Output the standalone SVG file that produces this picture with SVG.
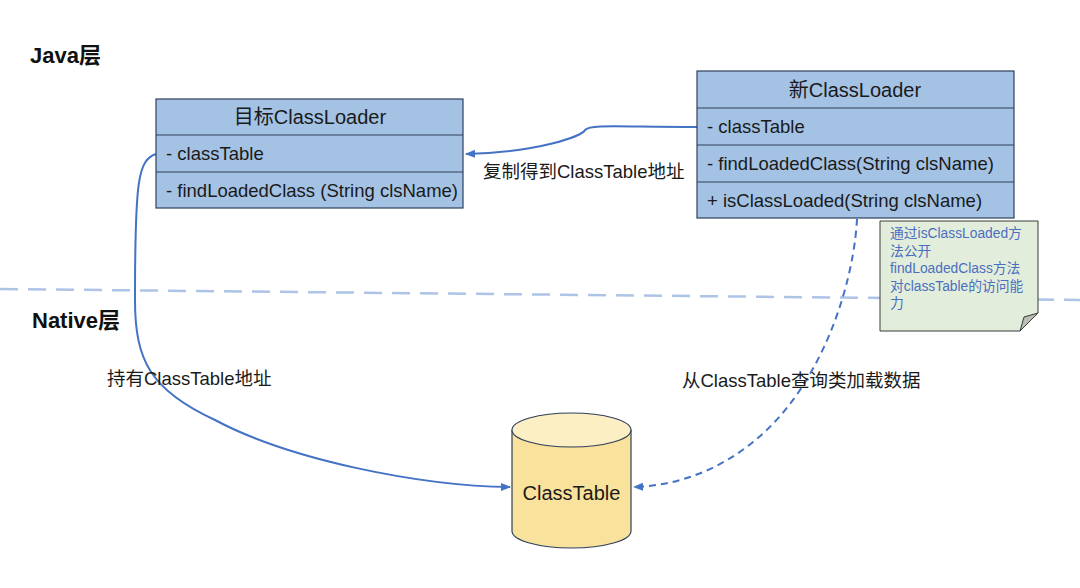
<svg xmlns="http://www.w3.org/2000/svg" width="1080" height="588" viewBox="0 0 1080 588">
<style>
.box{fill:#a4c2e4;stroke:#2f3f5a;stroke-width:1.2}
.sep{stroke:#2f3f5a;stroke-width:1}
.t{font-family:"Liberation Sans","Noto Sans CJK SC",sans-serif;fill:#1a1a1a}
.h{font-size:20px}
.r{font-size:18.5px}
.lbl{font-family:"Liberation Sans","Noto Sans CJK SC",sans-serif;font-size:18.5px;fill:#1a1a1a}
.layer{font-family:"Liberation Sans","Noto Sans CJK SC",sans-serif;font-size:22px;font-weight:bold;fill:#111}
.conn{fill:none;stroke:#4472c4;stroke-width:2}
</style>
<defs>
<marker id="ah" viewBox="0 0 10 10" refX="9" refY="5" markerWidth="5" markerHeight="5" orient="auto"><path d="M0,1 L10,5 L0,9 z" fill="#4472c4"/></marker>
</defs>
<rect width="1080" height="588" fill="#ffffff"/>
<line x1="0" y1="289" x2="1080" y2="300" stroke="#adc4e6" stroke-width="2.5" stroke-dasharray="18,10"/>
<text class="layer" x="30" y="63">Java层</text>
<text class="layer" x="32" y="328">Native层</text>
<g id="connectors">
<path class="conn" d="M697,127 C620,127 590,124 585,130 C582,136 540,152 466,154" marker-end="url(#ah)"/>
<path class="conn" d="M156,154 C138,160 135,180 135,300 C135,360 150,390 215,420 C290,460 420,486 510,487" marker-end="url(#ah)"/>
<path class="conn" d="M857,219 C855,260 840,330 800,390 C760,450 700,485 634,487" stroke-dasharray="7,5" marker-end="url(#ah)"/>
</g>
<text class="lbl" x="483" y="178">复制得到ClassTable地址</text>
<text class="lbl" x="107" y="385">持有ClassTable地址</text>
<text class="lbl" x="682" y="387">从ClassTable查询类加载数据</text>
<g id="target-loader">
<rect class="box" x="156" y="99" width="307" height="109"/>
<line class="sep" x1="156" y1="135" x2="463" y2="135"/>
<line class="sep" x1="156" y1="172" x2="463" y2="172"/>
<text class="t h" x="310" y="124" text-anchor="middle">目标ClassLoader</text>
<text class="t r" x="166" y="160">- classTable</text>
<text class="t r" x="166" y="197">- findLoadedClass (String clsName)</text>
</g>
<g id="new-loader">
<rect class="box" x="697" y="71" width="317" height="147"/>
<line class="sep" x1="697" y1="108" x2="1014" y2="108"/>
<line class="sep" x1="697" y1="145" x2="1014" y2="145"/>
<line class="sep" x1="697" y1="182" x2="1014" y2="182"/>
<text class="t h" x="855" y="97" text-anchor="middle">新ClassLoader</text>
<text class="t r" x="707" y="133">- classTable</text>
<text class="t r" x="707" y="170">- findLoadedClass(String clsName)</text>
<text class="t r" x="707" y="207">+ isClassLoaded(String clsName)</text>
</g>
<g id="note">
<path d="M880,221 L1038,221 L1038,313 L1020,331 L880,331 Z" fill="#e3eddb" stroke="#3a3a3a" stroke-width="1"/>
<path d="M1020,331 L1024,317 L1038,313 Z" fill="#b9bdb4" stroke="#3a3a3a" stroke-width="1"/>
<g font-family="Liberation Sans,Noto Sans CJK SC,sans-serif" font-size="13.8" fill="#4a6fc0">
<text x="890" y="238">通过isClassLoaded方</text>
<text x="890" y="256">法公开</text>
<text x="890" y="273">findLoadedClass方法</text>
<text x="890" y="291">对classTable的访问能</text>
<text x="890" y="308">力</text>
</g>
</g>
<g id="classtable">
<path d="M512,430 L512,531 A59.5,17 0 0 0 631,531 L631,430" fill="#f9e29c" stroke="#2f3f5a" stroke-width="1.2"/>
<ellipse cx="571.5" cy="430" rx="59.5" ry="17" fill="#fcefc4" stroke="#2f3f5a" stroke-width="1.2"/>
<text class="t" x="571.5" y="500" font-size="20" text-anchor="middle">ClassTable</text>
</g>
</svg>
